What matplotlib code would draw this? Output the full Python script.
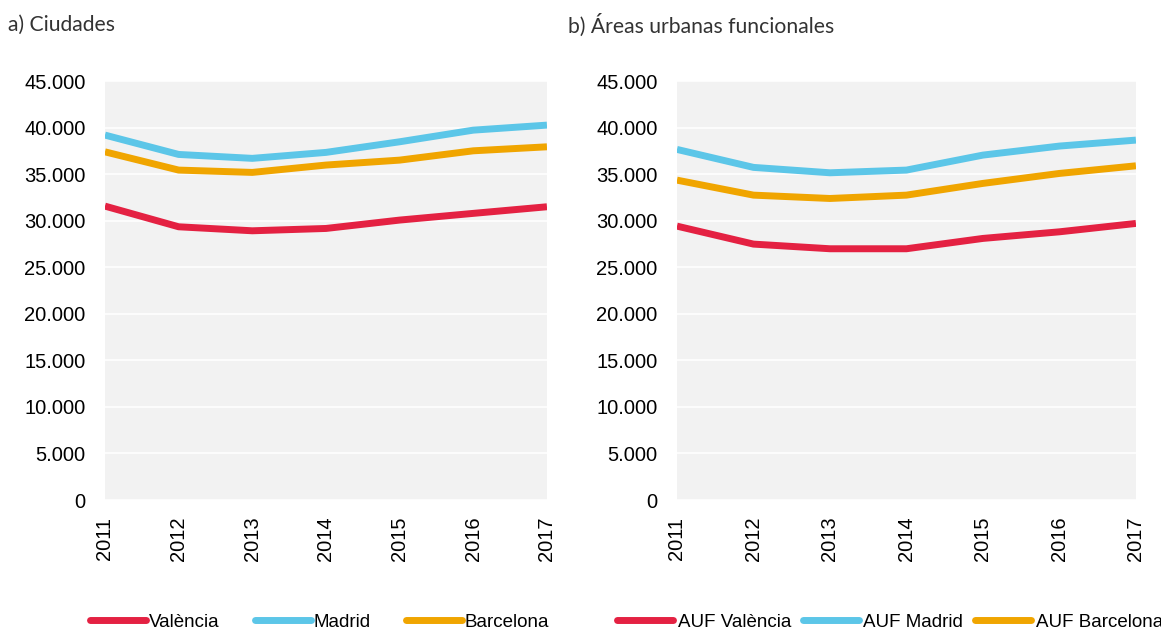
import matplotlib.pyplot as plt
from matplotlib.ticker import FuncFormatter

years = ["2011", "2012", "2013", "2014", "2015", "2016", "2017"]

# a) Ciudades
valencia = [31570, 29350, 28920, 29170, 30070, 30790, 31500]
madrid = [39200, 37120, 36700, 37340, 38480, 39730, 40270]
barcelona = [37400, 35440, 35190, 35980, 36510, 37510, 37940]

# b) Áreas urbanas funcionales
auf_valencia = [29420, 27490, 26990, 26990, 28100, 28810, 29710]
auf_madrid = [37660, 35730, 35150, 35440, 37050, 38020, 38660]
auf_barcelona = [34360, 32750, 32390, 32750, 34010, 35080, 35900]

RED = "#e42142"
BLUE = "#5cc6e8"
ORANGE = "#f0a500"


def thousands(v, pos):
    return f"{int(v):,}".replace(",", ".")


def style_axis(ax):
    ax.set_facecolor("#f2f2f2")
    ax.set_ylim(0, 45000)
    ax.set_yticks(range(0, 45001, 5000))
    ax.yaxis.set_major_formatter(FuncFormatter(thousands))
    ax.set_xlim(0, len(years) - 1)
    ax.set_xticks(range(len(years)))
    ax.set_xticklabels(years, rotation=90)
    ax.grid(axis="y", color="white", linewidth=1.2)
    ax.set_axisbelow(True)
    for s in ax.spines.values():
        s.set_visible(False)
    ax.tick_params(length=0, labelsize=14.5)
    ax.tick_params(axis="y", pad=14)
    ax.tick_params(axis="x", pad=12)
    for lab in ax.get_xticklabels() + ax.get_yticklabels():
        lab.set_family("Liberation Sans")


fig = plt.figure(figsize=(11.61, 6.30), dpi=100)
ax1 = fig.add_axes([0.0904, 0.2063, 0.3807, 0.665])
ax2 = fig.add_axes([0.5831, 0.2063, 0.3953, 0.665])

x = range(len(years))
ax1.plot(x, valencia, color=RED, lw=5, label="València", solid_capstyle="butt")
ax1.plot(x, madrid, color=BLUE, lw=5, label="Madrid", solid_capstyle="butt")
ax1.plot(x, barcelona, color=ORANGE, lw=5, label="Barcelona", solid_capstyle="butt")

ax2.plot(x, auf_valencia, color=RED, lw=5, label="AUF València", solid_capstyle="butt")
ax2.plot(x, auf_madrid, color=BLUE, lw=5, label="AUF Madrid", solid_capstyle="butt")
ax2.plot(x, auf_barcelona, color=ORANGE, lw=5, label="AUF Barcelona", solid_capstyle="butt")

style_axis(ax1)
style_axis(ax2)

leg_kw = dict(ncol=3, frameon=False, handlelength=3.0, borderpad=0,
              prop={"family": "Liberation Sans", "size": 13.5},
              loc="center left", borderaxespad=0)
leg1 = fig.legend(*ax1.get_legend_handles_labels(), bbox_to_anchor=(0.0775, 0.0127),
                  columnspacing=1.85, handletextpad=0.16, **leg_kw)
leg2 = fig.legend(*ax2.get_legend_handles_labels(), bbox_to_anchor=(0.5314, 0.0127),
                  columnspacing=0.6, handletextpad=0.25, **leg_kw)
for leg in (leg1, leg2):
    for h in leg.legend_handles:
        h.set_solid_capstyle("round")

fig.text(0.007, 0.96, "a) Ciudades", family="Lato", fontsize=15.2, va="center", color="#333333")
fig.text(0.489, 0.96, "b) Áreas urbanas funcionales", family="Lato", fontsize=15.2,
         va="center", color="#333333")

fig.savefig("out.png", dpi=100)
